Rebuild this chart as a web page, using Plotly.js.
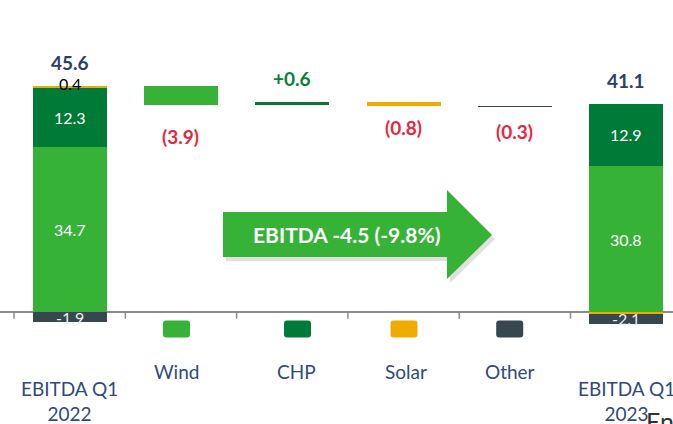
<!DOCTYPE html>
<html>
<head>
<meta charset="utf-8">
<script src="https://cdn.plot.ly/plotly-3.0.1.min.js"></script>
<style>html,body{margin:0;padding:0;background:#fff;overflow:hidden;}#chart{width:673px;height:424px;}</style>
</head>
<body>
<div id="chart"></div>
<script>
// ---- data ----
const categories = ['EBITDA Q1<br>2022', 'Wind', 'CHP', 'Solar', 'Other', 'EBITDA Q1<br>2023'];
const totals = [45.6, 41.1];
const totalLabels = ['45.6', '41.1'];
const windVals = [34.7, 30.8];
const chpVals = [12.3, 12.9];
const solarVals = [0.4, -0.3];
const otherVals = [-1.9, -2.1];
const deltas = [-3.9, 0.6, -0.8, -0.3];
const deltaLabels = ['(3.9)', '+0.6', '(0.8)', '(0.3)'];
const arrowText = 'EBITDA -4.5 (-9.8%)';

// ---- style ----
const C = {wind: '#36b236', chp: '#007a37', solar: '#f0ab00', other: '#37474f',
           navy: '#2b3f6b', cat: '#2f4a7c', red: '#e8263d', green: '#0a7f3a'};
const FONT = 'Lato, "Open Sans", sans-serif';
const W = 673, H = 424;
const BW = 0.665;
const endX = [0, 5];
const deltaX = [1, 2, 3, 4];
const deltaColors = [C.wind, C.chp, C.solar, C.other];

// waterfall bases from positive stack top of first bar
const startLevel = windVals[0] + chpVals[0] + Math.max(solarVals[0], 0);
const bases = [];
let lvl = startLevel;
deltas.forEach(d => { bases.push(lvl); lvl += d; });

const traces = [
  {type: 'bar', x: endX, y: windVals, width: BW, marker: {color: C.wind}, hoverinfo: 'skip'},
  {type: 'bar', x: endX, y: chpVals, width: BW, marker: {color: C.chp}, hoverinfo: 'skip'},
  {type: 'bar', x: endX, y: solarVals, width: BW, marker: {color: C.solar}, hoverinfo: 'skip'},
  {type: 'bar', x: endX, y: otherVals, width: BW, marker: {color: C.other}, hoverinfo: 'skip'},
  {type: 'bar', x: deltaX, y: deltas, base: bases, width: BW, marker: {color: deltaColors}, hoverinfo: 'skip'}
];

const px = p => p / W;          // pixel -> paper x
const py = p => 1 - p / H;      // pixel -> paper y

const annotations = [];
// totals
endX.forEach((x, i) => {
  const top = windVals[i] + chpVals[i] + Math.max(solarVals[i], 0);
  annotations.push({x: x, y: top, xref: 'x', yref: 'y', text: '<b>' + totalLabels[i] + '</b>', showarrow: false,
    yanchor: 'middle', yshift: 24, font: {family: FONT, size: 19, color: C.navy}});
  annotations.push({x: x, y: windVals[i] / 2, text: windVals[i].toFixed(1), showarrow: false,
    font: {family: FONT, size: 16, color: '#ffffff'}});
  annotations.push({x: x, y: windVals[i] + chpVals[i] / 2, text: chpVals[i].toFixed(1), showarrow: false,
    font: {family: FONT, size: 16, color: '#ffffff'}});
  const negBase = Math.min(solarVals[i], 0);
  annotations.push({x: x, y: negBase + otherVals[i] / 2, text: otherVals[i].toFixed(1), showarrow: false,
    font: {family: FONT, size: 16, color: '#eeeeee'}});
});
// solar label of first bar (above top)
annotations.push({x: 0, y: startLevel, text: solarVals[0].toFixed(1), showarrow: false, yanchor: 'middle', yshift: 3,
  font: {family: FONT, size: 16, color: '#000000'}});
// delta labels
const deltaShift = [-32, 24, -22, -24];
deltas.forEach((d, i) => {
  const edge = bases[i] + d;
  annotations.push({x: deltaX[i], y: edge, text: '<b>' + deltaLabels[i] + '</b>', showarrow: false,
    yanchor: 'middle', yshift: deltaShift[i],
    font: {family: FONT, size: 19, color: d < 0 ? C.red : C.green}});
});
// category labels
const catXShift = [0, -4, 4, 2, -5, 0];
categories.forEach((c, i) => {
  const twoLine = c.indexOf('<br>') >= 0;
  annotations.push({x: i, xref: 'x', yref: 'paper', y: py(twoLine ? 401 : 371), text: c, showarrow: false,
    xshift: catXShift[i], yanchor: 'middle', align: 'center',
    font: {family: FONT, size: 19, color: C.cat}});
});
// arrow text
annotations.push({xref: 'paper', yref: 'paper', x: px(347), y: py(235), text: '<b>' + arrowText + '</b>',
  showarrow: false, xanchor: 'center', yanchor: 'middle', font: {family: FONT, size: 21, color: '#ffffff'}});
// cropped text at bottom right
annotations.push({xref: 'paper', yref: 'paper', x: px(644), y: py(404), text: 'Energy', showarrow: false,
  xanchor: 'left', yanchor: 'top', font: {family: FONT, size: 25, color: '#333333'}});

const shapes = [];
// ticks at category boundaries
for (let i = 0; i < categories.length; i++) {
  shapes.push({type: 'line', xref: 'x', yref: 'y', x0: i - 0.5, x1: i - 0.5, y0: 0, y1: -1.3,
    line: {color: '#8c8c8c', width: 1.5}});
}
// arrow
function poly(pts) {
  return 'M ' + pts.map(p => px(p[0]) + ',' + py(p[1])).join(' L ') + ' Z';
}
const arrowPts = [[223, 212], [447, 212], [447, 190], [492, 235], [447, 279], [447, 257], [223, 257]];
shapes.push({type: 'path', xref: 'paper', yref: 'paper', path: poly(arrowPts.map(p => [p[0] + 3, p[1] + 4])),
  fillcolor: 'rgba(0,0,0,0.12)', line: {width: 0}});
shapes.push({type: 'path', xref: 'paper', yref: 'paper', path: poly(arrowPts),
  fillcolor: C.wind, line: {width: 0}});
// legend squares (rounded)
function rrect(cx, cy, w, h, r) {
  const x0 = cx - w / 2, x1 = cx + w / 2, y0 = cy - h / 2, y1 = cy + h / 2;
  const P = (x, y) => px(x) + ',' + py(y);
  return 'M ' + P(x0 + r, y0) + ' L ' + P(x1 - r, y0) + ' Q ' + P(x1, y0) + ' ' + P(x1, y0 + r) +
    ' L ' + P(x1, y1 - r) + ' Q ' + P(x1, y1) + ' ' + P(x1 - r, y1) +
    ' L ' + P(x0 + r, y1) + ' Q ' + P(x0, y1) + ' ' + P(x0, y1 - r) +
    ' L ' + P(x0, y0 + r) + ' Q ' + P(x0, y0) + ' ' + P(x0 + r, y0) + ' Z';
}
const legendPx = [176.5, 297.5, 404, 509.7];
deltaColors.forEach((col, i) => {
  shapes.push({type: 'path', xref: 'paper', yref: 'paper', path: rrect(legendPx[i], 329, 27, 17, 3),
    fillcolor: col, line: {width: 0}});
});

const layout = {
  width: W, height: H,
  margin: {l: 0, r: 0, t: 0, b: 0, pad: 0},
  paper_bgcolor: '#ffffff', plot_bgcolor: '#ffffff',
  barmode: 'relative', bargap: 0,
  showlegend: false,
  xaxis: {range: [-0.626, 5.421], showgrid: false, zeroline: false, showticklabels: false, showline: false, fixedrange: true},
  yaxis: {range: [-23.38, 65.51], showgrid: false, zeroline: true, zerolinecolor: '#8c8c8c', zerolinewidth: 2,
          showticklabels: false, showline: false, fixedrange: true},
  annotations: annotations,
  shapes: shapes,
  font: {family: FONT}
};

Plotly.newPlot('chart', traces, layout, {staticPlot: true, displayModeBar: false});
</script>
</body>
</html>
